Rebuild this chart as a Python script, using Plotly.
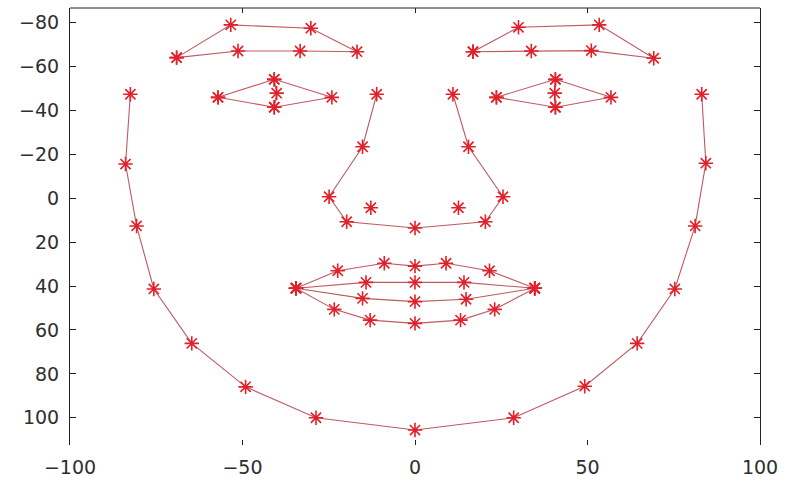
import plotly.graph_objects as go

# Facial landmark outlines (x, y in face coordinates; y grows downward)
jaw_x = [-82.5, -83.9, -80.7, -75.7, -64.7, -49.1, -28.7, 0.0, 28.6, 49.2, 64.4, 75.3, 81.2, 84.3, 83.1]
jaw_y = [-47.4, -15.6, 12.6, 41.3, 66.1, 85.9, 100.0, 105.6, 100.0, 85.6, 66.1, 41.3, 12.6, -16.0, -47.4]

brow_l_x = [-69.1, -53.4, -30.2, -16.8, -33.3, -51.3, -69.1]
brow_l_y = [-64.1, -79.0, -77.5, -66.8, -67.1, -67.1, -64.1]
brow_r_x = [16.8, 30.0, 53.4, 69.2, 51.1, 33.7, 16.8]
brow_r_y = [-66.8, -77.9, -79.0, -63.8, -67.3, -67.1, -66.8]

eye_l_x = [-57.1, -40.8, -24.1, -40.8, -57.1]
eye_l_y = [-46.0, -54.2, -46.0, -41.5, -46.0]
pupil_l_x = [-40.8, -40.1, -40.8]
pupil_l_y = [-54.2, -47.9, -41.5]
eye_r_x = [23.6, 40.7, 56.8, 40.7, 23.6]
eye_r_y = [-46.0, -54.2, -46.0, -41.5, -46.0]
pupil_r_x = [40.7, 40.5, 40.7]
pupil_r_y = [-54.2, -47.9, -41.5]

nose_x = [-11.1, -15.2, -24.9, -19.8, 0.0, 20.4, 25.5, 15.5, 11.0]
nose_y = [-47.4, -23.5, -0.7, 10.7, 13.5, 10.7, -0.7, -23.5, -47.4]
nostril_x = [-12.8, 12.6]
nostril_y = [4.3, 4.3]

lip_uo_x = [-34.5, -22.4, -8.9, 0.0, 9.0, 21.6, 34.7]
lip_uo_y = [41.0, 33.0, 29.6, 30.9, 29.6, 33.0, 41.0]
lip_ui_x = [-34.5, -14.2, 0.0, 14.2, 34.7]
lip_ui_y = [41.0, 38.3, 38.3, 38.3, 41.0]
lip_li_x = [-34.5, -15.2, 0.0, 14.8, 34.7]
lip_li_y = [41.0, 45.6, 47.1, 46.0, 41.0]
lip_lo_x = [-34.5, -23.4, -13.0, 0.0, 13.2, 23.1, 34.7]
lip_lo_y = [41.0, 50.6, 55.5, 57.0, 55.5, 50.6, 41.0]

x_ticks = [-100, -50, 0, 50, 100]
y_ticks = [-80, -60, -40, -20, 0, 20, 40, 60, 80, 100]

LINE_COLOR = "rgba(180,60,70,0.85)"
MARK_COLOR = "#e0202a"

fig = go.Figure()

def outline(xs, ys, markers=True, lines=True):
    mode = "+".join(m for m, on in (("lines", lines), ("markers", markers)) if on)
    fig.add_trace(go.Scatter(
        x=xs, y=ys, mode=mode,
        line=dict(color=LINE_COLOR, width=1.1),
        marker=dict(symbol="asterisk-open", size=12, color=MARK_COLOR,
                    line=dict(color=MARK_COLOR, width=1.6)),
        showlegend=False, hoverinfo="x+y",
    ))

outline(jaw_x, jaw_y)
outline(brow_l_x, brow_l_y)
outline(brow_r_x, brow_r_y)
outline(eye_l_x, eye_l_y)
outline(pupil_l_x, pupil_l_y)
outline(eye_r_x, eye_r_y)
outline(pupil_r_x, pupil_r_y)
outline(nose_x, nose_y)
outline(nostril_x, nostril_y, lines=False)
outline(lip_uo_x, lip_uo_y)
outline(lip_ui_x, lip_ui_y)
outline(lip_li_x, lip_li_y)
outline(lip_lo_x, lip_lo_y)

tick_font = dict(family="DejaVu Sans", size=19, color="#2e2e2e")

fig.update_layout(
    width=786, height=477,
    margin=dict(l=70, r=26, t=8, b=32),
    paper_bgcolor="white", plot_bgcolor="white",
    xaxis=dict(
        range=[-100, 100], tickvals=x_ticks, automargin=False,
        ticks="inside", ticklen=5, tickcolor="#222222", mirror="ticks",
        showline=False, showgrid=False, zeroline=False,
        tickfont=tick_font, ticklabelstandoff=9,
    ),
    yaxis=dict(
        range=[112.4, -86.7], tickvals=y_ticks, automargin=False,
        ticks="inside", ticklen=6, tickcolor="#222222",
        showline=True, linecolor="#222222", linewidth=1, mirror="ticks",
        showgrid=False, zeroline=False,
        tickfont=tick_font, ticklabelstandoff=6,
    ),
    shapes=[dict(type="line", xref="paper", yref="paper", x0=0, x1=1, y0=1, y1=1,
                 line=dict(color="#222222", width=1))],
)

fig.write_html("out.html")
